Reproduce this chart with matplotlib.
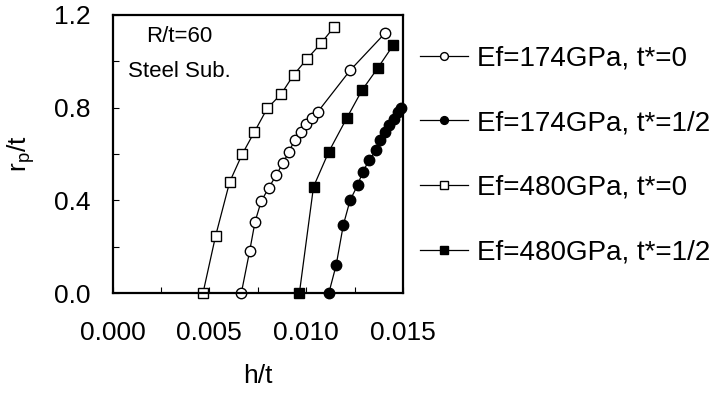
#!/usr/bin/env python
# -*- coding: utf-8 -*-
'''
Plastic zone size r_p/t versus h/t for two film moduli and two t* values
'''
import matplotlib
matplotlib.use('Agg')
import matplotlib.pyplot as plt
from matplotlib.ticker import MultipleLocator

plt.rcParams['font.family'] = ['Liberation Sans', 'DejaVu Sans']

################################################################################
# Data
################################################################################
# Ef=174GPa, t*=0 (open circles)
h_174_0 = [0.00665, 0.00708, 0.00736, 0.00768, 0.00806, 0.00845, 0.00879,
           0.00911, 0.00940, 0.00971, 0.00999, 0.01029, 0.01060, 0.01228,
           0.01407]
r_174_0 = [0.0, 0.181, 0.308, 0.397, 0.453, 0.509, 0.560,
           0.609, 0.660, 0.696, 0.729, 0.755, 0.782, 0.962,
           1.121]

# Ef=174GPa, t*=1/2 (filled circles)
h_174_h = [0.01117, 0.01155, 0.01192, 0.01227, 0.01266, 0.01292, 0.01326,
           0.01361, 0.01381, 0.01409, 0.01429, 0.01452, 0.01472, 0.01490]
r_174_h = [0.0, 0.121, 0.294, 0.401, 0.466, 0.523, 0.574,
           0.617, 0.660, 0.696, 0.725, 0.753, 0.782, 0.797]

# Ef=480GPa, t*=0 (open squares)
h_480_0 = [0.00467, 0.00532, 0.00605, 0.00670, 0.00733, 0.00799, 0.00871,
           0.00935, 0.01003, 0.01077, 0.01146]
r_480_0 = [0.0, 0.246, 0.480, 0.600, 0.696, 0.797, 0.859,
           0.941, 1.009, 1.078, 1.150]

# Ef=480GPa, t*=1/2 (filled squares)
h_480_h = [0.00965, 0.01038, 0.01117, 0.01209, 0.01289, 0.01369, 0.01450]
r_480_h = [0.0, 0.459, 0.610, 0.754, 0.876, 0.970, 1.070]

labels = ['Ef=174GPa, t*=0', 'Ef=174GPa, t*=1/2',
          'Ef=480GPa, t*=0', 'Ef=480GPa, t*=1/2']

################################################################################
# Plot
################################################################################
fig = plt.figure(figsize=(7.17, 3.94), dpi=100)
ax = fig.add_axes([0.157, 0.256, 0.405, 0.706])

ms = 7.5
ax.plot(h_174_0, r_174_0, 'k-', lw=0.9, marker='o', ms=ms, mfc='white',
        mec='k', mew=1.0, label=labels[0], clip_on=False)
ax.plot(h_174_h, r_174_h, 'k-', lw=0.9, marker='o', ms=ms, mfc='k',
        mec='k', mew=1.0, label=labels[1], clip_on=False)
ax.plot(h_480_0, r_480_0, 'k-', lw=0.9, marker='s', ms=ms, mfc='white',
        mec='k', mew=1.0, label=labels[2], clip_on=False)
ax.plot(h_480_h, r_480_h, 'k-', lw=0.9, marker='s', ms=ms, mfc='k',
        mec='k', mew=1.0, label=labels[3], clip_on=False)

ax.set_xlim(0, 0.015)
ax.set_ylim(0, 1.2)
ax.xaxis.set_major_locator(MultipleLocator(0.005))
ax.xaxis.set_minor_locator(MultipleLocator(0.0025))
ax.yaxis.set_major_locator(MultipleLocator(0.4))
ax.yaxis.set_minor_locator(MultipleLocator(0.2))
ax.xaxis.set_major_formatter(plt.FormatStrFormatter('%.3f'))
ax.yaxis.set_major_formatter(plt.FormatStrFormatter('%.1f'))
ax.tick_params(which='both', direction='in', length=4, width=0.8,
               labelsize=19, top=False, right=False)
ax.tick_params(axis='x', pad=20)
ax.tick_params(axis='y', pad=16)
for s in ax.spines.values():
    s.set_linewidth(1.6)

ax.set_xlabel('h/t', fontsize=19, labelpad=14)
ax.set_ylabel(r'r$_\mathregular{p}$/t', fontsize=19, labelpad=12)

# annotation inside the box
ax.text(0.117, 0.921, 'R/t=60', transform=ax.transAxes, fontsize=16,
        va='center', ha='left')
ax.text(0.053, 0.795, 'Steel Sub.', transform=ax.transAxes, fontsize=16,
        va='center', ha='left')

ax.legend(loc='upper left', bbox_to_anchor=(1.059, 0.89), frameon=False,
          fontsize=20, markerscale=0.75, handlelength=1.73, handletextpad=0.32,
          labelspacing=1.39, borderaxespad=0, borderpad=0)

fig.savefig('out.png', dpi=100)
plt.close(fig)
